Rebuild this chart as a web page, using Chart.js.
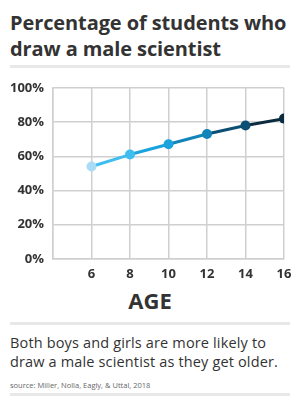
<!DOCTYPE html>
<html>
<head>
<meta charset="utf-8">
<script src="https://cdn.jsdelivr.net/npm/chart.js@4"></script>
<style>
  body { margin: 0; width: 300px; height: 409px; background: #fff; font-family: "Open Sans", sans-serif; color: #333; position: relative; overflow: hidden; }
  .title { position: absolute; left: 10px; top: 10px; font-size: 20px; font-weight: 700; line-height: 26px; letter-spacing: -0.1px; white-space: nowrap; }
  .rule { position: absolute; left: 10px; width: 280px; height: 3px; background: #e8e8e8; }
  .axisTitle { position: absolute; left: 0; width: 300px; top: 285px; text-align: center; font-size: 22px; font-weight: 700; }
  .note { position: absolute; left: 10px; top: 333px; font-size: 14.5px; line-height: 19px; letter-spacing: 0.15px; white-space: nowrap; }
  .source { position: absolute; left: 10px; top: 380px; font-size: 7.5px; color: #666; }
  #wrap { position: absolute; left: 0; top: 71px; width: 300px; height: 213px; }
</style>
</head>
<body>
<div class="title">Percentage of students who<br>draw a male scientist</div>
<div class="rule" style="top:65px"></div>
<div id="wrap"><canvas id="chart_sci"></canvas></div>
<div class="axisTitle">AGE</div>
<div class="rule" style="top:322px"></div>
<div class="note">Both boys and girls are more likely to<br>draw a male scientist as they get older.</div>
<div class="source">source: Miller, Nolla, Eagly, &amp; Uttal, 2018</div>
<div class="rule" style="top:393px"></div>

<script>
//data
var ages = [6, 8, 10, 12, 14, 16];
var percentMale = [54, 61, 67, 73, 78, 82];
var pointColors = ['#a9dcf4', '#3fbdee', '#1ba3dd', '#1185ba', '#0c4f74', '#0b2c40'];
var yTicks = [0, 20, 40, 60, 80, 100];

var points = [];
ages.forEach((a, i) => {
    points.push({x: a, y: percentMale[i]});
});

var ctxSci = document.getElementById('chart_sci').getContext('2d');
var ChartSci = new Chart(ctxSci, {
    type: 'line',
    data: {
        datasets: [{
            data: points,
            borderWidth: 3,
            pointRadius: 5,
            pointHoverRadius: 5,
            pointBorderWidth: 0,
            pointBackgroundColor: pointColors,
            segment: {
                borderColor: function(c) { return pointColors[c.p1DataIndex]; }
            }
        }]
    },
    options: {
        responsive: true,
        maintainAspectRatio: false,
        animation: false,
        layout: { padding: { top: 0, right: 16, left: 0, bottom: 0 } },
        plugins: { legend: { display: false }, tooltip: { enabled: false } },
        scales: {
            x: {
                type: 'linear',
                min: 4,
                max: 16,
                afterFit: function(s) { s.height = 25; },
                ticks: {
                    stepSize: 2,
                    padding: 7,
                    color: '#333',
                    font: { family: 'Open Sans', weight: 'bold', size: 13 },
                    callback: function(v) { return v === 4 ? '' : v; }
                },
                grid: { color: '#cfcfcf', lineWidth: 1.5, drawTicks: false },
                border: { color: '#cfcfcf', width: 1.5 }
            },
            y: {
                min: 0,
                max: 100,
                afterFit: function(s) { s.width = 53; },
                afterBuildTicks: function(s) { s.ticks = yTicks.map(v => ({value: v})); },
                ticks: {
                    padding: 9,
                    color: '#333',
                    font: { family: 'Open Sans', weight: 'bold', size: 13 },
                    callback: function(v) { return v + '%'; }
                },
                grid: { color: '#cfcfcf', lineWidth: 1.5, drawTicks: false },
                border: { color: '#cfcfcf', width: 1.5 }
            }
        }
    }
});
</script>
</body>
</html>
